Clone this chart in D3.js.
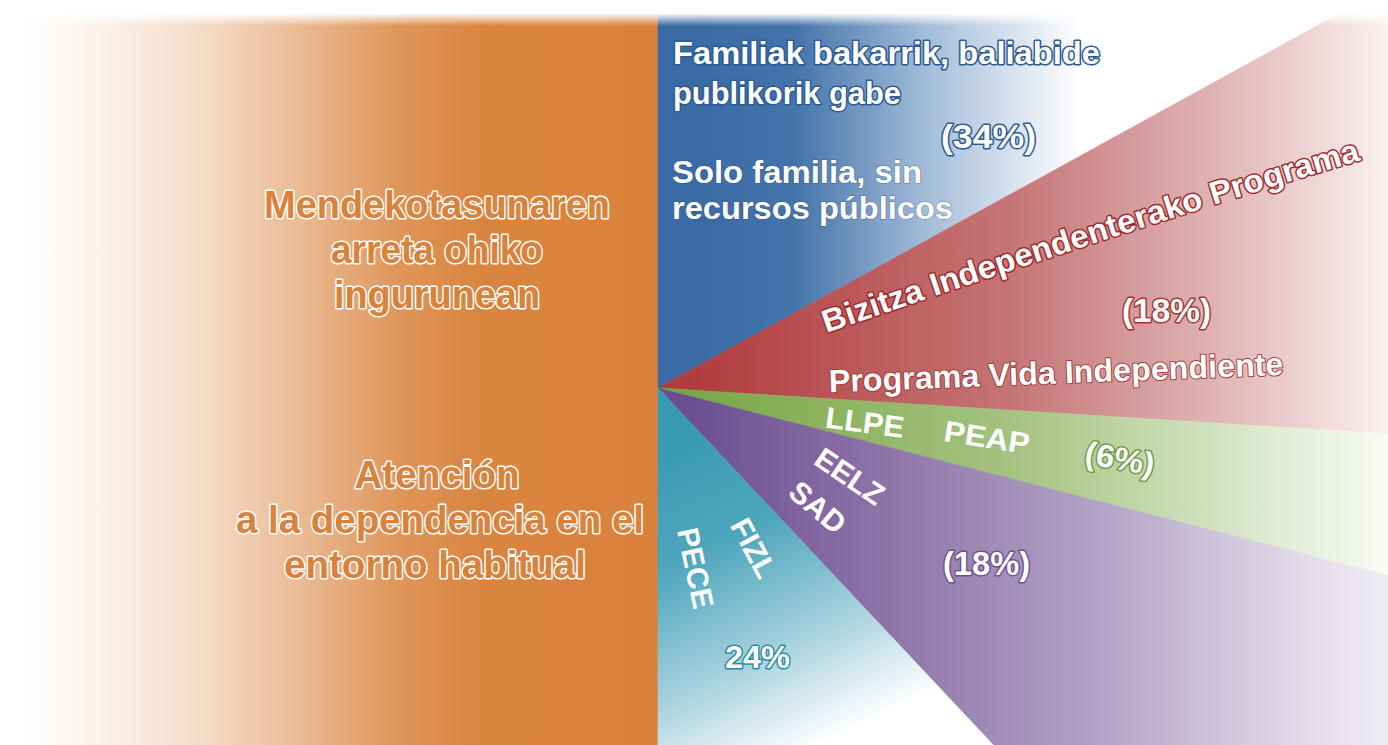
<!DOCTYPE html>
<html>
<head>
<meta charset="utf-8">
<script src="https://cdn.jsdelivr.net/npm/d3@7"></script>
<style>
  body { margin: 0; background: #fff; }
  svg { display: block; }
  text { font-family: "Liberation Sans", Arial, sans-serif; font-weight: bold; }
</style>
</head>
<body>
<svg id="chart" width="1388" height="745"></svg>
<script>
// care in the usual environment, split in a half pie
const categories = ["Familiak bakarrik", "Bizitza Independenterako Programa", "LLPE / PEAP", "EELZ / SAD", "FIZL / PECE"];
const shares = [34, 18, 6, 18, 24];
const shareLabels = ["(34%)", "(18%)", "(6%)", "(18%)", "24%"];
const sliceColors = ["#3b6ba5", "#b03a3c", "#78a745", "#6a4d92", "#3899b2"];

const svg = d3.select("#chart");
const width = 1388, height = 745;
const cx = 658, cy = 388;
const defs = svg.append("defs");

// gradients (absolute coords, shifted for the centred pie group)
const fades = [
  {x1: 700, y1: 0, x2: 1080, y2: 0, stops: [[0.25, "#4574ab"], [0.6, "#a4bdd9"], [1, "#ffffff"]]},
  {x1: 680, y1: 0, x2: 1400, y2: 0, stops: [[0.45, "#c57374"], [0.75, "#e0b5b5"], [1, "#fcf4f4"]]},
  {x1: 680, y1: 0, x2: 1400, y2: 0, stops: [[0.45, "#a3c27f"], [0.8, "#dbe8cc"], [1, "#fbfdf7"]]},
  {x1: 680, y1: 0, x2: 1420, y2: 0, stops: [[0.25, "#8a70a5"], [0.55, "#b0a0c5"], [0.85, "#e2dcea"], [1, "#f4f1f7"]]},
  {x1: 680, y1: 430, x2: 830, y2: 740, stops: [[0.35, "#4fa6bd"], [0.7, "#a8d2de"], [1, "#ffffff"]]}
];
fades.forEach((f, i) => {
  const lg = defs.append("linearGradient").attr("id", "fade" + i)
    .attr("gradientUnits", "userSpaceOnUse")
    .attr("x1", f.x1 - cx).attr("y1", f.y1 - cy).attr("x2", f.x2 - cx).attr("y2", f.y2 - cy);
  lg.append("stop").attr("offset", 0).attr("stop-color", sliceColors[i]);
  f.stops.forEach(s => lg.append("stop").attr("offset", s[0]).attr("stop-color", s[1]));
});

const og = defs.append("linearGradient").attr("id", "orangeFade")
  .attr("gradientUnits", "userSpaceOnUse").attr("x1", 22).attr("x2", cx).attr("y1", 0).attr("y2", 0);
[[0, 0], [0.12, 0.1], [0.28, 0.28], [0.42, 0.52], [0.59, 0.84], [0.72, 0.98], [1, 1]]
  .forEach(s => og.append("stop").attr("offset", s[0]).attr("stop-color", "#d9823b").attr("stop-opacity", s[1]));

const tg = defs.append("linearGradient").attr("id", "topFade")
  .attr("x1", 0).attr("x2", 0).attr("y1", 0).attr("y2", 1);
tg.append("stop").attr("offset", 0).attr("stop-color", "#fff").attr("stop-opacity", 1);
tg.append("stop").attr("offset", 0.5).attr("stop-color", "#fff").attr("stop-opacity", 1);
tg.append("stop").attr("offset", 1).attr("stop-color", "#fff").attr("stop-opacity", 0);

defs.append("clipPath").attr("id", "clip")
  .append("rect").attr("x", 0).attr("y", 10).attr("width", width).attr("height", height);

const chart = svg.append("g").attr("clip-path", "url(#clip)");

chart.append("rect")
  .attr("x", 22).attr("y", 0).attr("width", cx - 22).attr("height", height)
  .attr("fill", "url(#orangeFade)");

const pie = d3.pie().sort(null).startAngle(0).endAngle(Math.PI);
const arc = d3.arc().innerRadius(0).outerRadius(1100);

chart.append("g").attr("transform", `translate(${cx},${cy})`)
  .selectAll("path")
  .data(pie(shares))
  .join("path")
  .attr("d", arc)
  .attr("fill", (d, i) => `url(#fade${i})`)
  .attr("stroke", (d, i) => `url(#fade${i})`)
  .attr("stroke-width", 0.6);

chart.append("rect").attr("x", 0).attr("y", 0).attr("width", width).attr("height", 26)
  .attr("fill", "url(#topFade)");

// labels
const orange = "#d9823b";
const labels = [
  {t: "Familiak bakarrik, baliabide", x: 673, y: 64, size: 31, len: 427, fill: "#fff", stroke: "#2c5a92"},
  {t: "publikorik gabe", x: 673, y: 104, size: 31, len: 228, fill: "#fff", stroke: "#2c5a92"},
  {t: shareLabels[0], x: 941, y: 148, size: 33, len: 95, fill: "#fff", stroke: "#2c5a92"},
  {t: "Solo familia, sin", x: 672, y: 183, size: 32, len: 250, fill: "#fff", stroke: "rgba(30,60,110,0.35)", sw: 1.5},
  {t: "recursos públicos", x: 672, y: 219, size: 32, len: 281, fill: "#fff", stroke: "rgba(30,60,110,0.35)", sw: 1.5},
  {t: "Mendekotasunaren", x: 437, y: 218, size: 38, len: 346, anchor: "middle", fill: orange, stroke: "#fff"},
  {t: "arreta ohiko", x: 437, y: 263, size: 38, len: 212, anchor: "middle", fill: orange, stroke: "#fff"},
  {t: "ingurunean", x: 437, y: 308, size: 38, len: 206, anchor: "middle", fill: orange, stroke: "#fff"},
  {t: "Atención", x: 437, y: 488, size: 38, len: 165, anchor: "middle", fill: orange, stroke: "#fff"},
  {t: "a la dependencia en el", x: 440, y: 533, size: 38, len: 408, anchor: "middle", fill: orange, stroke: "#fff"},
  {t: "entorno habitual", x: 435, y: 578, size: 38, len: 302, anchor: "middle", fill: orange, stroke: "#fff"},
  {t: shareLabels[1], x: 1122, y: 322, size: 33, len: 89, fill: "#fff", stroke: "#a83434"},
  {t: "Programa Vida Independiente", x: 1056, y: 372, r: -2.2, size: 32, len: 455, mid: true, fill: "#fff", stroke: "#a33a3a", sw: 2},
  {t: "LLPE", x: 865, y: 422, r: 7.5, size: 30, len: 79, mid: true, fill: "#fff"},
  {t: "PEAP", x: 987, y: 437, r: 9, size: 30, len: 86, mid: true, fill: "#fff"},
  {t: shareLabels[2], x: 1120, y: 458, r: 10, size: 32, len: 70, mid: true, fill: "#fff", stroke: "#6f9a4a"},
  {t: "EELZ", x: 850, y: 476, r: 34, size: 30, mid: true, fill: "#fff"},
  {t: "SAD", x: 818, y: 507, r: 40, size: 30, mid: true, fill: "#fff"},
  {t: "FIZL", x: 754, y: 548, r: 62, size: 30, mid: true, fill: "#fff"},
  {t: "PECE", x: 696, y: 568, r: 78, size: 30, mid: true, fill: "#fff"},
  {t: shareLabels[3], x: 943, y: 575, size: 33, len: 87, fill: "#fff", stroke: "#6d5290"},
  {t: shareLabels[4], x: 725, y: 668, size: 32, len: 65, fill: "#fff", stroke: "#2a8aa3"}
];

svg.append("g").selectAll("text")
  .data(labels)
  .join("text")
  .attr("transform", d => `translate(${d.x},${d.y}) rotate(${d.r || 0})`)
  .attr("text-anchor", d => d.mid ? "middle" : (d.anchor || "start"))
  .attr("dy", d => d.mid ? "0.36em" : null)
  .attr("font-size", d => d.size)
  .attr("textLength", d => d.len || null)
  .attr("lengthAdjust", "spacingAndGlyphs")
  .attr("fill", d => d.fill)
  .attr("stroke", d => d.stroke || "none")
  .attr("stroke-width", d => d.sw || 3)
  .attr("stroke-linejoin", "round")
  .attr("paint-order", "stroke")
  .text(d => d.t);

// label curving along the top edge of the red slice
defs.append("path").attr("id", "bizitzaPath")
  .attr("d", "M826,333 Q1150,222 1368,158");
svg.append("text")
  .attr("font-size", 32)
  .attr("fill", "#fff")
  .attr("stroke", "#a02b2d")
  .attr("stroke-width", 3)
  .attr("stroke-linejoin", "round")
  .attr("paint-order", "stroke")
  .append("textPath")
  .attr("href", "#bizitzaPath")
  .attr("textLength", 562)
  .attr("lengthAdjust", "spacingAndGlyphs")
  .text(categories[1]);
</script>
</body>
</html>
